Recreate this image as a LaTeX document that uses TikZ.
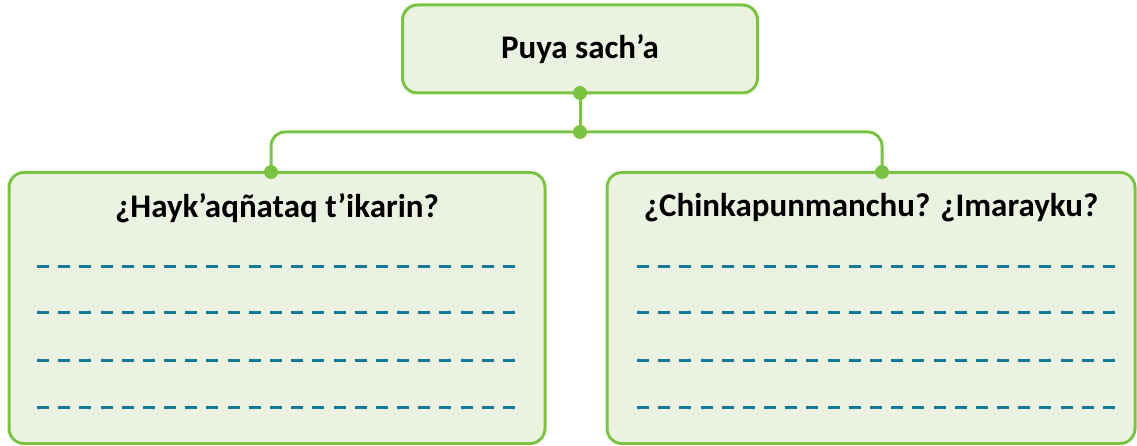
\documentclass[tikz,border=0pt]{standalone}
\usepackage{fontspec}
\setmainfont{Carlito}
\usetikzlibrary{positioning}
\definecolor{leafgreen}{RGB}{124,194,67}
\definecolor{paleleaf}{RGB}{235,242,225}
\definecolor{inkteal}{RGB}{20,121,150}
\begin{document}
\begin{tikzpicture}[x=1pt,y=-1pt,
	box/.style={draw=leafgreen,fill=paleleaf,line width=3pt,rounded corners=15pt,inner sep=0,outer sep=0},
	headtext/.style={inner sep=0,font=\fontsize{33}{40}\selectfont\bfseries},
	link/.style={draw=leafgreen,line width=3pt},
	knob/.style={fill=leafgreen},
	writeline/.style={draw=inkteal,line width=3pt,dash pattern=on 12pt off 9.18pt}]
	\useasboundingbox (0,0) rectangle (1137,446);
	\node[box,minimum width=355pt,minimum height=88pt] (top) at (580,49) {};
	\node[headtext] (toptext) at (top.center) {Puya sach’a};
	\node[box,minimum width=536pt,minimum height=271pt] (left) at (277,308) {};
	\node[box,minimum width=528pt,minimum height=271pt] (right) at (871,308) {};
	\node[headtext,below=21pt of left.north] (lefthead) {¿Hayk’aqñataq t’ikarin?};
	\node[headtext,below=21pt of right.north] (righthead) {¿Chinkapunmanchu? ¿Imarayku?};
	\coordinate (hub) at (580,132);
	\coordinate (leftjoin) at (271,172);
	\coordinate (rightjoin) at (882,172);
	\draw[link] (top.south) -- (hub);
	\draw[link,rounded corners=14pt] (leftjoin) |- (hub) -| (rightjoin);
	\foreach \p in {top.south,hub,leftjoin,rightjoin}
		\fill[knob] (\p) circle (7pt);
	\foreach \y in {267,312,360,407} {
		\draw[writeline] (37,\y) -- (515,\y);
		\draw[writeline] (637,\y) -- (1115,\y);
	}
\end{tikzpicture}
\end{document}
